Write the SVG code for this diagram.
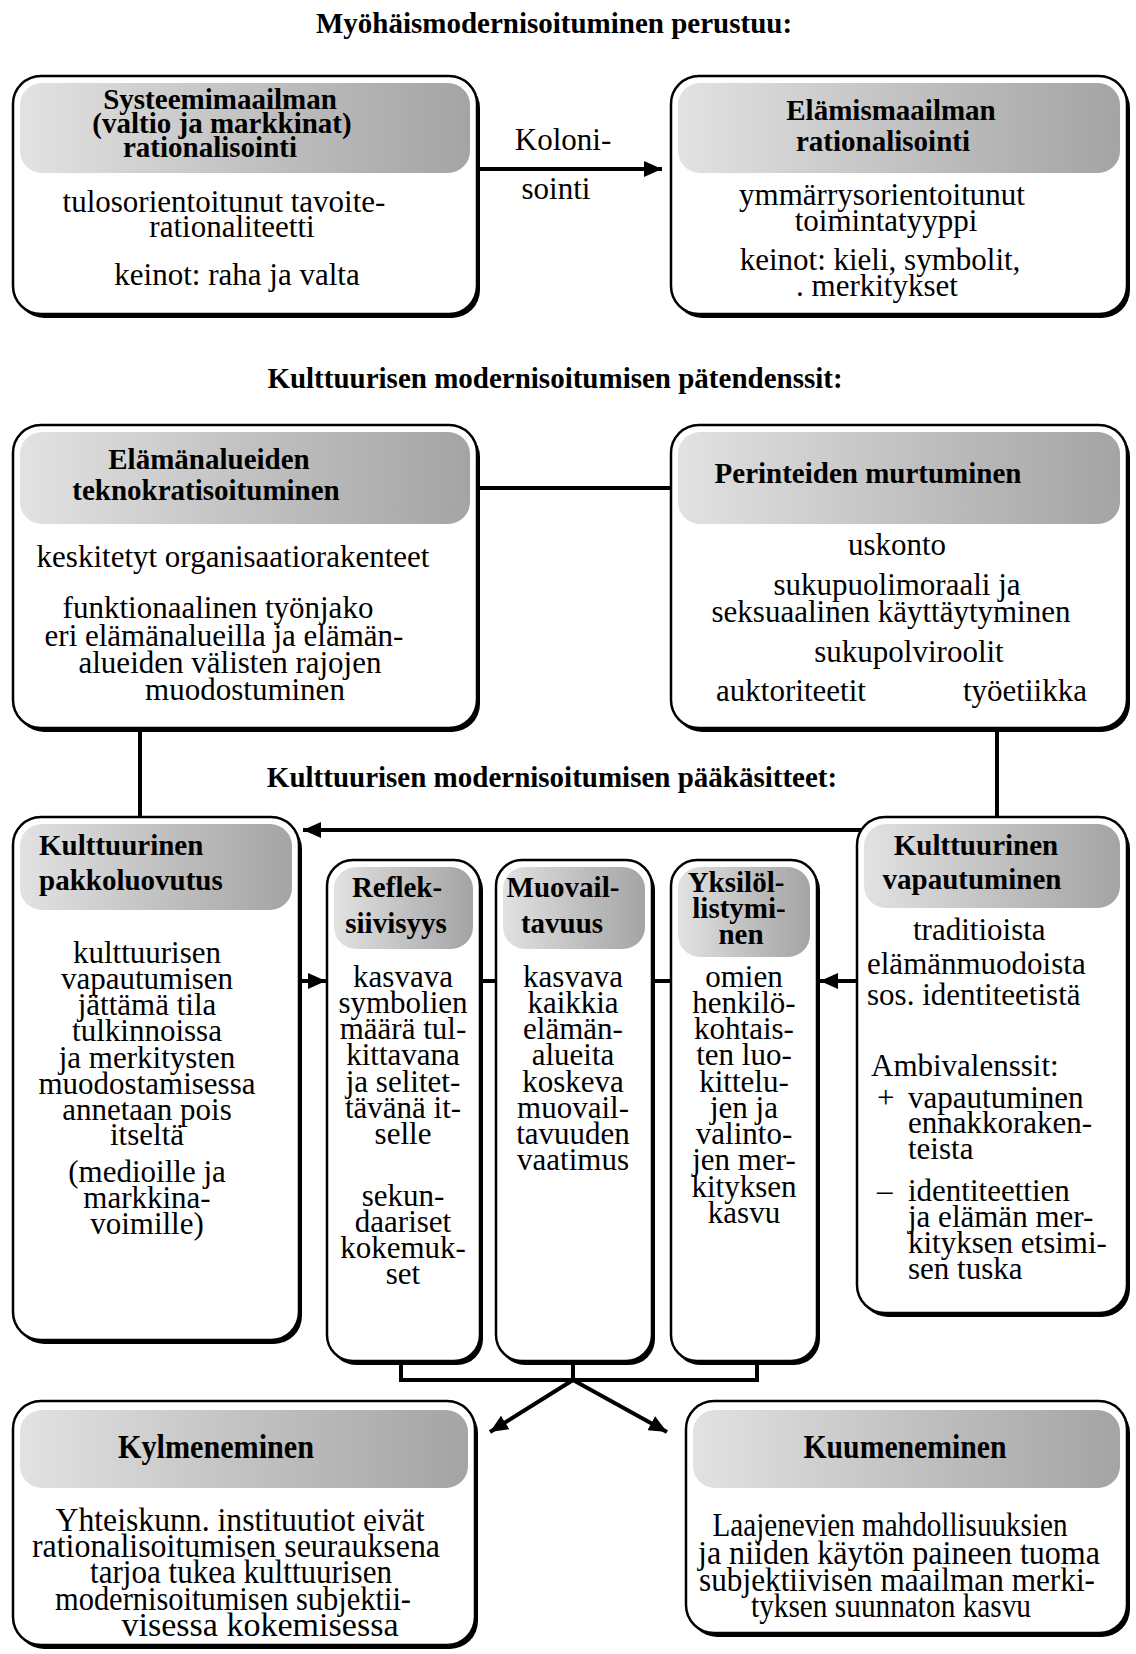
<svg xmlns="http://www.w3.org/2000/svg" width="1136" height="1654" viewBox="0 0 1136 1654">
<defs>
<linearGradient id="band" x1="0" y1="0" x2="1" y2="0">
<stop offset="0" stop-color="#e2e2e2"/>
<stop offset="0.5" stop-color="#c2c2c2"/>
<stop offset="1" stop-color="#a4a4a4"/>
</linearGradient>
<marker id="ah" markerUnits="userSpaceOnUse" markerWidth="20" markerHeight="16" refX="18" refY="8" orient="auto">
<path d="M0,0 L18,8 L0,16 Z" fill="#000"/>
</marker>
</defs>
<style>
.sh{fill:#000}
.bx{fill:#fff;stroke:#000;stroke-width:2.5}
.bd{fill:url(#band)}
.t{font-family:"Liberation Serif","Times New Roman",serif;font-size:31px;fill:#000}
.h{font-family:"Liberation Serif","Times New Roman",serif;font-size:29px;font-weight:bold;fill:#000}
.c{text-anchor:middle}
.ln{stroke:#000;stroke-width:4;fill:none}
.cn{font-family:"Liberation Serif","Times New Roman",serif;font-size:33px;fill:#000;text-anchor:middle}
</style>
<rect width="1136" height="1654" fill="#fff"/>

<text class="h c" x="554" y="33">Myöhäismodernisoituminen perustuu:</text>
<text class="h c" x="555" y="388">Kulttuurisen modernisoitumisen pätendenssit:</text>
<text class="h c" x="552" y="787">Kulttuurisen modernisoitumisen pääkäsitteet:</text>

<g id="connectors">
<line class="ln" x1="477" y1="169" x2="662" y2="169" marker-end="url(#ah)"/>
<line class="ln" x1="477" y1="488" x2="671" y2="488"/>
<line class="ln" x1="140" y1="728" x2="140" y2="817"/>
<line class="ln" x1="997" y1="728" x2="997" y2="817"/>
<line class="ln" x1="861" y1="830" x2="303" y2="830" marker-end="url(#ah)"/>
<line class="ln" x1="301" y1="981" x2="326" y2="981" marker-end="url(#ah)"/>
<line class="ln" x1="482" y1="981" x2="496" y2="981"/>
<line class="ln" x1="654" y1="981" x2="671" y2="981"/>
<line class="ln" x1="857" y1="981" x2="820" y2="981" marker-end="url(#ah)"/>
<polyline class="ln" points="401,1364 401,1380 757,1380 757,1364"/>
<line class="ln" x1="573" y1="1364" x2="573" y2="1380"/>
<line class="ln" x1="573" y1="1380" x2="490" y2="1432" marker-end="url(#ah)"/>
<line class="ln" x1="573" y1="1380" x2="667" y2="1432" marker-end="url(#ah)"/>
<text class="t c"><tspan x="563" y="150">Koloni-</tspan><tspan x="556" y="199">sointi</tspan></text>
</g>

<g id="systeemimaailma">
<rect class="sh" x="16" y="80" width="464" height="238" rx="28"/>
<rect class="bx" x="13" y="76" width="464" height="238" rx="28"/>
<rect class="bd" x="20" y="83" width="450" height="90" rx="22"/>
<text class="h c"><tspan x="220" y="109">Systeemimaailman</tspan><tspan x="222" y="133">(valtio ja markkinat)</tspan><tspan x="210" y="157">rationalisointi</tspan></text>
<text class="t c"><tspan x="224" y="212">tulosorientoitunut tavoite-</tspan><tspan x="232" y="237">rationaliteetti</tspan></text>
<text class="t c" x="237" y="285">keinot: raha ja valta</text>
</g>

<g id="elamismaailma">
<rect class="sh" x="674" y="80" width="456" height="238" rx="28"/>
<rect class="bx" x="671" y="76" width="456" height="238" rx="28"/>
<rect class="bd" x="678" y="83" width="442" height="90" rx="22"/>
<text class="h c"><tspan x="891" y="120">Elämismaailman</tspan><tspan x="883" y="151">rationalisointi</tspan></text>
<text class="t c"><tspan x="882" y="205">ymmärrysorientoitunut</tspan><tspan x="886" y="231">toimintatyyppi</tspan></text>
<text class="t c"><tspan x="880" y="270">keinot: kieli, symbolit,</tspan><tspan x="877" y="296">. merkitykset</tspan></text>
</g>

<g id="teknokratisoituminen">
<rect class="sh" x="16" y="429" width="464" height="303" rx="28"/>
<rect class="bx" x="13" y="425" width="464" height="303" rx="28"/>
<rect class="bd" x="20" y="432" width="450" height="92" rx="22"/>
<text class="h c"><tspan x="209" y="469">Elämänalueiden</tspan><tspan x="206" y="500">teknokratisoituminen</tspan></text>
<text class="t c" x="233" y="567">keskitetyt organisaatiorakenteet</text>
<text class="t c"><tspan x="218" y="618">funktionaalinen työnjako</tspan><tspan x="224" y="646">eri elämänalueilla ja elämän-</tspan><tspan x="230" y="673">alueiden välisten rajojen</tspan><tspan x="245" y="700">muodostuminen</tspan></text>
</g>

<g id="perinteet">
<rect class="sh" x="674" y="429" width="456" height="303" rx="28"/>
<rect class="bx" x="671" y="425" width="456" height="303" rx="28"/>
<rect class="bd" x="678" y="432" width="442" height="92" rx="22"/>
<text class="h c" x="868" y="483">Perinteiden murtuminen</text>
<text class="t c" x="897" y="555">uskonto</text>
<text class="t c"><tspan x="897" y="595">sukupuolimoraali ja</tspan><tspan x="891" y="622">seksuaalinen käyttäytyminen</tspan></text>
<text class="t c" x="909" y="662">sukupolviroolit</text>
<text class="t c" x="791" y="701">auktoriteetit</text>
<text class="t c" x="1025" y="701">työetiikka</text>
</g>

<g id="pakkoluovutus">
<rect class="sh" x="16" y="821" width="286" height="523" rx="28"/>
<rect class="bx" x="13" y="817" width="286" height="523" rx="28"/>
<rect class="bd" x="20" y="824" width="272" height="86" rx="22"/>
<text class="h"><tspan x="39" y="855">Kulttuurinen</tspan><tspan x="39" y="890">pakkoluovutus</tspan></text>
<text class="t c"><tspan x="147" y="963">kulttuurisen</tspan><tspan x="147" y="989">vapautumisen</tspan><tspan x="147" y="1015">jättämä tila</tspan><tspan x="147" y="1041">tulkinnoissa</tspan><tspan x="147" y="1068">ja merkitysten</tspan><tspan x="147" y="1094">muodostamisessa</tspan><tspan x="147" y="1120">annetaan pois</tspan><tspan x="147" y="1145">itseltä</tspan></text>
<text class="t c"><tspan x="147" y="1182">(medioille ja</tspan><tspan x="147" y="1208">markkina-</tspan><tspan x="147" y="1234">voimille)</tspan></text>
</g>

<g id="refleksiivisyys">
<rect class="sh" x="330" y="864" width="153" height="501" rx="26"/>
<rect class="bx" x="327" y="860" width="153" height="501" rx="26"/>
<rect class="bd" x="334" y="867" width="139" height="82" rx="22"/>
<text class="h c"><tspan x="397" y="897">Reflek-</tspan><tspan x="396" y="933">siivisyys</tspan></text>
<text class="t c"><tspan x="403" y="987">kasvava</tspan><tspan x="403" y="1013">symbolien</tspan><tspan x="403" y="1039">määrä tul-</tspan><tspan x="403" y="1065">kittavana</tspan><tspan x="403" y="1092">ja selitet-</tspan><tspan x="403" y="1118">tävänä it-</tspan><tspan x="403" y="1144">selle</tspan></text>
<text class="t c"><tspan x="403" y="1206">sekun-</tspan><tspan x="403" y="1232">daariset</tspan><tspan x="403" y="1258">kokemuk-</tspan><tspan x="403" y="1284">set</tspan></text>
</g>

<g id="muovailtavuus">
<rect class="sh" x="499" y="864" width="156" height="501" rx="26"/>
<rect class="bx" x="496" y="860" width="156" height="501" rx="26"/>
<rect class="bd" x="503" y="867" width="142" height="82" rx="22"/>
<text class="h c"><tspan x="563" y="897">Muovail-</tspan><tspan x="562" y="933">tavuus</tspan></text>
<text class="t c"><tspan x="573" y="987">kasvava</tspan><tspan x="573" y="1013">kaikkia</tspan><tspan x="573" y="1039">elämän-</tspan><tspan x="573" y="1065">alueita</tspan><tspan x="573" y="1092">koskeva</tspan><tspan x="573" y="1118">muovail-</tspan><tspan x="573" y="1144">tavuuden</tspan><tspan x="573" y="1170">vaatimus</tspan></text>
</g>

<g id="yksilollistyminen">
<rect class="sh" x="674" y="864" width="146" height="501" rx="26"/>
<rect class="bx" x="671" y="860" width="146" height="501" rx="26"/>
<rect class="bd" x="678" y="867" width="132" height="90" rx="22"/>
<text class="h c"><tspan x="736" y="892">Yksilöl-</tspan><tspan x="739" y="918">listymi-</tspan><tspan x="741" y="944">nen</tspan></text>
<text class="t c"><tspan x="744" y="987">omien</tspan><tspan x="744" y="1013">henkilö-</tspan><tspan x="744" y="1039">kohtais-</tspan><tspan x="744" y="1065">ten luo-</tspan><tspan x="744" y="1092">kittelu-</tspan><tspan x="744" y="1118">jen ja</tspan><tspan x="744" y="1144">valinto-</tspan><tspan x="744" y="1170">jen mer-</tspan><tspan x="744" y="1197">kityksen</tspan><tspan x="744" y="1223">kasvu</tspan></text>
</g>

<g id="vapautuminen">
<rect class="sh" x="860" y="821" width="270" height="496" rx="28"/>
<rect class="bx" x="857" y="817" width="270" height="496" rx="28"/>
<rect class="bd" x="864" y="824" width="256" height="84" rx="22"/>
<text class="h c"><tspan x="976" y="855">Kulttuurinen</tspan><tspan x="972" y="889">vapautuminen</tspan></text>
<text class="t"><tspan x="913" y="940">traditioista</tspan><tspan x="867" y="974">elämänmuodoista</tspan><tspan x="867" y="1005">sos. identiteetistä</tspan></text>
<text class="t" x="871" y="1076">Ambivalenssit:</text>
<text class="t"><tspan x="877" y="1108">+</tspan><tspan x="908" y="1108">vapautuminen</tspan><tspan x="908" y="1133">ennakkoraken-</tspan><tspan x="908" y="1159">teista</tspan></text>
<text class="t"><tspan x="877" y="1201">–</tspan><tspan x="908" y="1201">identiteettien</tspan><tspan x="908" y="1227">ja elämän mer-</tspan><tspan x="908" y="1253">kityksen etsimi-</tspan><tspan x="908" y="1279">sen tuska</tspan></text>
</g>

<g id="kylmeneminen">
<rect class="sh" x="16" y="1405" width="462" height="244" rx="28"/>
<rect class="bx" x="13" y="1401" width="462" height="244" rx="28"/>
<rect class="bd" x="20" y="1410" width="448" height="78" rx="22"/>
<text class="cn" x="216" y="1458" font-weight="bold" textLength="196" lengthAdjust="spacingAndGlyphs">Kylmeneminen</text>
<text class="cn"><tspan x="240" y="1531" textLength="369" lengthAdjust="spacingAndGlyphs">Yhteiskunn. instituutiot eivät</tspan><tspan x="236" y="1557" textLength="408" lengthAdjust="spacingAndGlyphs">rationalisoitumisen seurauksena</tspan><tspan x="241" y="1583" textLength="302" lengthAdjust="spacingAndGlyphs">tarjoa tukea kulttuurisen</tspan><tspan x="233" y="1610" textLength="356" lengthAdjust="spacingAndGlyphs">modernisoitumisen subjektii-</tspan><tspan x="260" y="1636" textLength="277" lengthAdjust="spacingAndGlyphs">visessa kokemisessa</tspan></text>
</g>

<g id="kuumeneminen">
<rect class="sh" x="689" y="1405" width="441" height="232" rx="28"/>
<rect class="bx" x="686" y="1401" width="441" height="232" rx="28"/>
<rect class="bd" x="693" y="1410" width="427" height="78" rx="22"/>
<text class="cn" x="905" y="1458" font-weight="bold" textLength="203" lengthAdjust="spacingAndGlyphs">Kuumeneminen</text>
<text class="cn"><tspan x="890" y="1536" textLength="355" lengthAdjust="spacingAndGlyphs">Laajenevien mahdollisuuksien</tspan><tspan x="899" y="1564" textLength="402" lengthAdjust="spacingAndGlyphs">ja niiden käytön paineen tuoma</tspan><tspan x="897" y="1591" textLength="396" lengthAdjust="spacingAndGlyphs">subjektiivisen maailman merki-</tspan><tspan x="891" y="1617" textLength="280" lengthAdjust="spacingAndGlyphs">tyksen suunnaton kasvu</tspan></text>
</g>
</svg>
